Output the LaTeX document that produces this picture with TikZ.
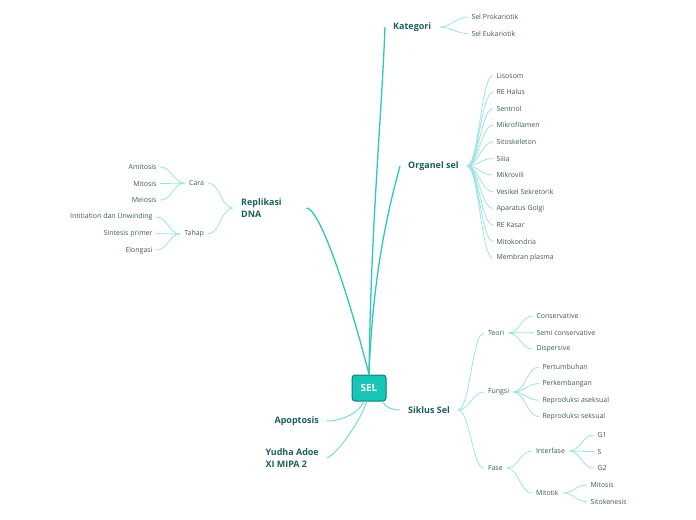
\documentclass[tikz,border=0pt]{standalone}
\usepackage{fontspec}
\setmainfont{Open Sans}
\usetikzlibrary{positioning}
\definecolor{rootfill}{HTML}{17C5B9}
\definecolor{rootline}{HTML}{0E7D75}
\definecolor{branch}{HTML}{2CC8BE}
\definecolor{twig}{HTML}{9CE5E0}
\definecolor{topictext}{HTML}{1B5F5B}
\definecolor{leaftext}{HTML}{3F5957}

\begin{document}
\begin{tikzpicture}[
  x=1bp, y=-1bp,
  font=\fontsize{7}{8.5}\selectfont,
  root/.style={draw=rootline, fill=rootfill, line width=1bp, rounded corners=3bp,
               minimum width=34bp, minimum height=26bp, text=white,
               font=\fontsize{10}{12}\selectfont\bfseries},
  topic/.style={text=topictext, font=\fontsize{9}{12.5}\selectfont\bfseries,
                inner xsep=8bp, align=left},
  sub/.style={text=leaftext, inner xsep=4bp, inner ysep=0pt, outer sep=0pt,
              minimum height=16.6bp},
  leaf/.style={sub, inner xsep=3.5bp},
  mainlink/.style={draw=branch, line width=1.3bp},
  lowlink/.style={draw=twig!70!branch, line width=1bp},
  rtwig/.style={draw=twig, line width=0.8bp,
                to path={.. controls +(12,0) and +(-12,0) .. (\tikztotarget)}},
  ltwig/.style={draw=twig, line width=0.8bp,
                to path={.. controls +(-12,0) and +(12,0) .. (\tikztotarget)}}
]
\useasboundingbox (0,0) rectangle (696,520);

\node[root] (sel) at (369,388) {SEL};

% main topics
\node[topic, anchor=west] (kat) at (385,27) {Kategori};
\node[topic, anchor=west] (org) at (400,166) {Organel sel};
\node[topic, anchor=west, text width=57bp] (rep) at (233,208) {Replikasi\\DNA};
\node[topic, anchor=west] (sik) at (400,410) {Siklus Sel};
\node[topic, anchor=east] (apo) at (327,421) {Apoptosis};
\node[topic, anchor=east] (yud) at (327,458) {Yudha Adoe\\XI MIPA 2};

% Kategori
\node[leaf, anchor=west] (pro) at (468,17) {Sel Prokariotik};
\node[leaf, below=0pt of pro.south west, anchor=north west] (euk) {Sel Eukariotik};

% Organel sel
\node[leaf, anchor=west] (lis) at (493,75.5) {Lisosom};
\node[leaf, below=0pt of lis.south west, anchor=north west] (reh) {RE Halus};
\node[leaf, below=0pt of reh.south west, anchor=north west] (sen) {Sentriol};
\node[leaf, below=0pt of sen.south west, anchor=north west] (mfl) {Mikrofilamen};
\node[leaf, below=0pt of mfl.south west, anchor=north west] (sit) {Sitoskeleton};
\node[leaf, below=0pt of sit.south west, anchor=north west] (sil) {Silia};
\node[leaf, below=0pt of sil.south west, anchor=north west] (mvl) {Mikrovili};
\node[leaf, below=0pt of mvl.south west, anchor=north west] (ves) {Vesikel Sekretorik};
\node[leaf, below=0pt of ves.south west, anchor=north west] (apg) {Aparatus Golgi};
\node[leaf, below=0pt of apg.south west, anchor=north west] (rek) {RE Kasar};
\node[leaf, below=0pt of rek.south west, anchor=north west] (mtk) {Mitokondria};
\node[leaf, below=0pt of mtk.south west, anchor=north west] (mem) {Membran plasma};

% Replikasi DNA
\node[sub, anchor=east] (cara) at (208,183) {Cara};
\node[sub, anchor=east] (tahap) at (208,234) {Tahap};
\node[leaf, anchor=east] (amit) at (160,167) {Amitosis};
\node[leaf, below=0pt of amit.south east, anchor=north east] (mitc) {Mitosis};
\node[leaf, below=0pt of mitc.south east, anchor=north east] (mei) {Meiosis};
\node[leaf, anchor=east] (ini) at (156,217) {Intitiation dan Unwinding};
\node[leaf, below=0pt of ini.south east, anchor=north east] (sin) {Sintesis primer};
\node[leaf, below=0pt of sin.south east, anchor=north east] (elo) {Elongasi};

% Siklus Sel
\node[sub, anchor=west] (teo) at (484,333) {Teori};
\node[sub, anchor=west] (fun) at (484,392) {Fungsi};
\node[sub, anchor=west] (fas) at (484,468) {Fase};
\node[leaf, anchor=west] (con) at (533,316) {Conservative};
\node[leaf, below=0pt of con.south west, anchor=north west] (sem) {Semi conservative};
\node[leaf, below=0pt of sem.south west, anchor=north west] (dis) {Dispersive};
\node[leaf, anchor=west] (ptb) at (539,367) {Pertumbuhan};
\node[leaf, below=0pt of ptb.south west, anchor=north west] (pkb) {Perkembangan};
\node[leaf, below=0pt of pkb.south west, anchor=north west] (ras) {Reproduksi aseksual};
\node[leaf, below=0pt of ras.south west, anchor=north west] (rsk) {Reproduksi seksual};
\node[sub, anchor=west] (inf) at (532,451) {Interfase};
\node[sub, anchor=west] (mtt) at (532,493) {Mitotik};
\node[leaf, anchor=west] (gsa) at (594,435) {G1};
\node[leaf, below=0pt of gsa.south west, anchor=north west] (gss) {S};
\node[leaf, below=0pt of gss.south west, anchor=north west] (gdu) {G2};
\node[leaf, anchor=west] (mts) at (587,485) {Mitosis};
\node[leaf, below=0pt of mts.south west, anchor=north west] (sto) {Sitokenesis};

% branches from the root
\draw[mainlink] (sel.north) .. controls +(2,-150) and +(-4,100) .. (kat.west);
\draw[mainlink] (sel.north) .. controls +(4,-110) and +(-8,30) .. (org.west);
\draw[mainlink] (sel.north) .. controls +(-15,-60) and +(15,0) .. (rep.east);
\draw[lowlink] (sel.-45) .. controls +(3,6) and +(-8,0) .. (sik.west);
\draw[lowlink] (sel.-110) .. controls +(-6,12) and +(15,0) .. (apo.east);
\draw[lowlink] (sel.-100) .. controls +(-4,15) and +(12,-5) .. (yud.east);

% sub branches
\draw[rtwig] (kat.east) to (pro.west) (kat.east) to (euk.west);
\draw[rtwig] (org.east) to (lis.west) (org.east) to (reh.west) (org.east) to (sen.west)
  (org.east) to (mfl.west) (org.east) to (sit.west) (org.east) to (sil.west)
  (org.east) to (mvl.west) (org.east) to (ves.west) (org.east) to (apg.west)
  (org.east) to (rek.west) (org.east) to (mtk.west) (org.east) to (mem.west);
\draw[ltwig] (rep.west) to (cara.east) (rep.west) to (tahap.east);
\draw[ltwig] (cara.west) to (amit.east) (cara.west) to (mitc.east) (cara.west) to (mei.east);
\draw[ltwig] (tahap.west) to (ini.east) (tahap.west) to (sin.east) (tahap.west) to (elo.east);
\draw[rtwig] (sik.east) to (teo.west) (sik.east) to (fun.west) (sik.east) to (fas.west);
\draw[rtwig] (teo.east) to (con.west) (teo.east) to (sem.west) (teo.east) to (dis.west);
\draw[rtwig] (fun.east) to (ptb.west) (fun.east) to (pkb.west) (fun.east) to (ras.west)
  (fun.east) to (rsk.west);
\draw[rtwig] (fas.east) to (inf.west) (fas.east) to (mtt.west);
\draw[rtwig] (inf.east) to (gsa.west) (inf.east) to (gss.west) (inf.east) to (gdu.west);
\draw[rtwig] (mtt.east) to (mts.west) (mtt.east) to (sto.west);
\end{tikzpicture}
\end{document}
